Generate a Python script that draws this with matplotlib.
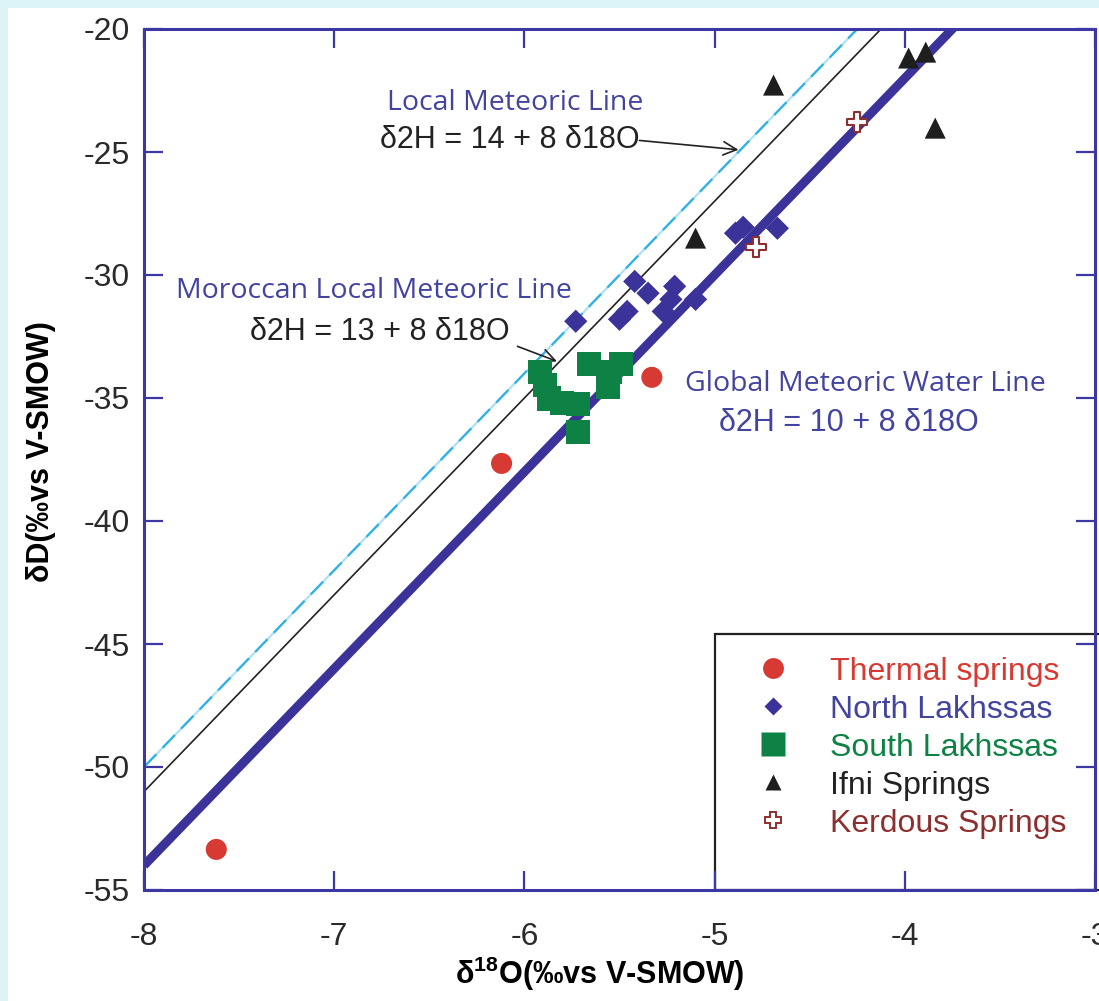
import numpy as np
import matplotlib
matplotlib.use("Agg")
import matplotlib.pyplot as plt
from matplotlib.lines import Line2D
from matplotlib.patches import Rectangle

plt.rcParams['font.family'] = ['Liberation Sans', 'DejaVu Sans']
plt.rcParams['mathtext.fontset'] = 'custom'
plt.rcParams['mathtext.rm'] = 'Liberation Sans'
plt.rcParams['mathtext.bf'] = 'Liberation Sans:bold'
plt.rcParams['axes.unicode_minus'] = False

# ---- data: δ18O (x) and δD (y), per-mil vs V-SMOW ----
thermal_x = [-7.62, -6.12, -5.33]
thermal_y = [-53.35, -37.66, -34.16]

north_x = [-5.73, -5.42, -5.35, -5.50, -5.46, -5.21, -5.23, -5.27, -5.10, -4.89, -4.85, -4.67]
north_y = [-31.88, -30.26, -30.74, -31.80, -31.48, -30.46, -30.99, -31.48, -30.99, -28.30, -28.06, -28.10]

south_x = [-5.92, -5.89, -5.87, -5.80, -5.72, -5.72, -5.66, -5.55, -5.49, -5.56]
south_y = [-33.96, -34.49, -35.02, -35.22, -35.26, -36.40, -33.63, -33.96, -33.63, -34.57]

ifni_x = [-4.69, -3.98, -3.89, -3.84, -5.10]
ifni_y = [-22.28, -21.18, -20.94, -24.03, -28.50]

kerdous_x = [-4.25, -4.78]
kerdous_y = [-23.79, -28.87]

# meteoric water lines: δ2H = intercept + slope * δ18O
slope = 8
gmwl_b = 10
mmwl_b = 13
lmwl_b = 14

x_ticks = [-8, -7, -6, -5, -4, -3]
y_ticks = [-20, -25, -30, -35, -40, -45, -50, -55]

legend_labels = ["Thermal springs", "North Lakhssas", "South Lakhssas", "Ifni Springs", "Kerdous Springs"]

# ---- styling ----
BLUE = "#3b3399"
SPINE = "#3d37a3"
LABEL_BLUE = "#4343a0"
RED = "#d63a32"
GREEN = "#0d8244"
DKRED = "#8e2f2f"

fig = plt.figure(figsize=(10.99, 10.01), dpi=100, facecolor="#dcf3f7")
fig.patches.append(Rectangle((8 / 1099, 0), 1, 1 - 8 / 1001, transform=fig.transFigure,
                             facecolor="white", edgecolor="none", zorder=-10))

ax = fig.add_axes([144 / 1099, 111 / 1001, (1095 - 144) / 1099, (890 - 29) / 1001])
ax.set_xlim(-8, -3)
ax.set_ylim(-55, -20)

xs = np.array([-8.0, -3.0])
ax.plot(xs, lmwl_b + slope * xs, color="#aee0f6", lw=1.6, zorder=2)
ax.plot(xs, lmwl_b + slope * xs, color="#2fb0e8", lw=1.6, dashes=(8, 4), zorder=2.1)
ax.plot(xs, mmwl_b + slope * xs, color="#222222", lw=1.2, zorder=2.2)
ax.plot(xs, gmwl_b + slope * xs, color=BLUE, lw=6.5, solid_capstyle="butt", zorder=2.3)

ax.scatter(thermal_x, thermal_y, marker="o", s=230, color=RED, edgecolors="none", zorder=4)
ax.scatter(north_x, north_y, marker="D", s=140, color=BLUE, edgecolors="none", zorder=4)
ax.scatter(south_x, south_y, marker="s", s=300, color=GREEN, edgecolors="none", zorder=4)
ax.scatter(ifni_x, ifni_y, marker="^", s=230, color="#1e1e1e", edgecolors="none", zorder=4)
ax.scatter(kerdous_x, kerdous_y, marker="P", s=190, color="white", edgecolors=DKRED,
           linewidths=1.5, zorder=5)

# annotations
blue_font = dict(family=["Open Sans", "DejaVu Sans"], color=LABEL_BLUE, fontsize=20.5)
eq_font = dict(family=["Liberation Sans", "DejaVu Sans"], fontsize=22)

ax.text(-6.046, -23.01, "Local Meteoric Line", ha="center", va="center", **blue_font)
ax.text(-6.76, -24.52, "δ2H = 14 + 8 δ18O", ha="left", va="center", color="#222222", **eq_font)
ax.annotate("", xy=(-4.86, -24.92), xytext=(-5.41, -24.52),
            arrowprops=dict(arrowstyle="->", color="#222222", lw=1.2, mutation_scale=24))

ax.text(-7.832, -30.66, "Moroccan Local Meteoric Line", ha="left", va="center", **blue_font)
ax.text(-7.443, -32.33, "δ2H = 13 + 8 δ18O", ha="left", va="center", color="#222222", **eq_font)
ax.annotate("", xy=(-5.815, -33.55), xytext=(-6.05, -32.86),
            arrowprops=dict(arrowstyle="->", color="#222222", lw=1.2, mutation_scale=24))

ax.text(-5.153, -34.45, "Global Meteoric Water Line", ha="left", va="center", **blue_font)
ax.text(-4.975, -36.0, "δ2H = 10 + 8 δ18O", ha="left", va="center", color=LABEL_BLUE, **eq_font)

# axes styling
for sp in ax.spines.values():
    sp.set_color(SPINE)
    sp.set_linewidth(2.2)
ax.set_xticks(x_ticks)
ax.set_yticks(y_ticks)
ax.tick_params(direction="in", length=14, width=1.6, color=SPINE, labelsize=23,
               labelcolor="#2a2a2a", top=True, right=True)
ax.tick_params(axis="x", pad=23)
ax.tick_params(axis="y", pad=10)

ax.set_xlabel(r"δ$^{\mathbf{18}}$O(‰vs V-SMOW)", fontsize=22, fontweight="bold")
ax.set_ylabel("δD(‰vs V-SMOW)", fontsize=22, fontweight="bold")
ax.xaxis.set_label_coords((600 - 144) / 951, -(955 - 890) / 861)
ax.yaxis.set_label_coords(-(144 - 56) / 951, (890 - 452) / 861)

# legend box
ax.add_patch(Rectangle((0.6, 0.0), 0.5, 0.297, transform=ax.transAxes, facecolor="white",
                       edgecolor="#222222", lw=1.6, clip_on=False, zorder=1))
handles = [
    Line2D([], [], ls="none", marker="o", ms=15, color=RED, mec="none"),
    Line2D([], [], ls="none", marker="D", ms=9.5, color=BLUE, mec="none"),
    Line2D([], [], ls="none", marker="s", ms=17, color=GREEN, mec="none"),
    Line2D([], [], ls="none", marker="^", ms=12, color="#1e1e1e", mec="none"),
    Line2D([], [], ls="none", marker="P", ms=11, color="white", mec=DKRED, mew=1.4),
]
leg = ax.legend(handles, legend_labels, loc="upper left", bbox_to_anchor=(0.6212, 0.297),
                frameon=False, fontsize=23, labelcolor=[RED, LABEL_BLUE, GREEN, "#222222", DKRED],
                handlelength=1.0, handletextpad=1.29, labelspacing=0.25, borderpad=0.2)

fig.savefig("out.png", dpi=100, facecolor=fig.get_facecolor())
